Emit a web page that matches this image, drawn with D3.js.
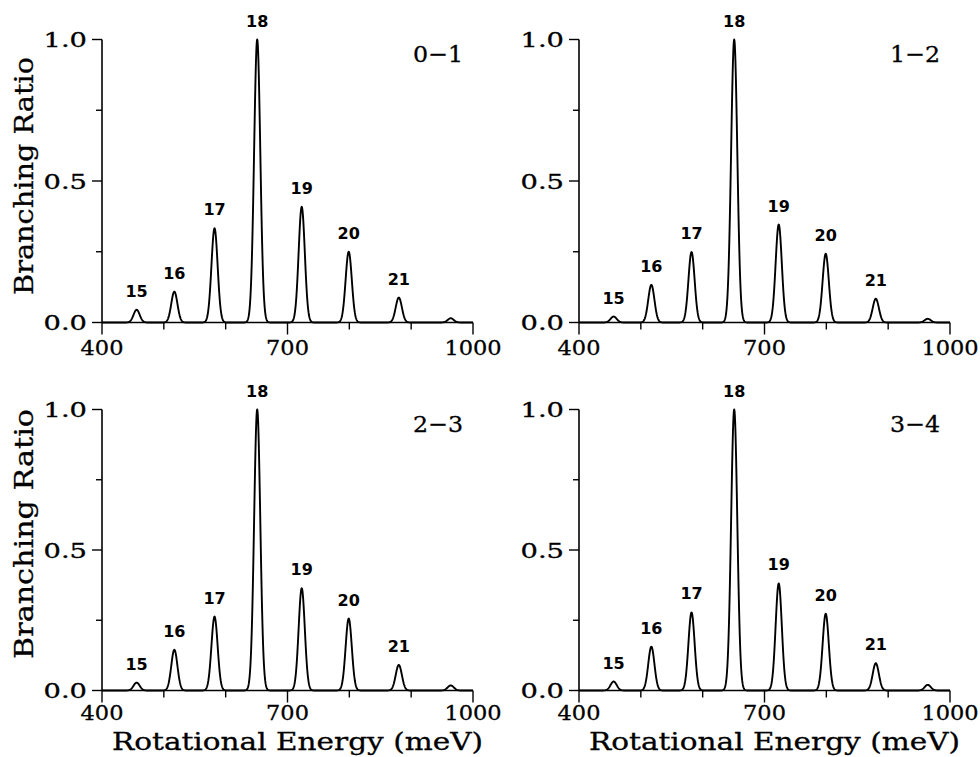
<!DOCTYPE html>
<html>
<head>
<meta charset="utf-8">
<script src="https://cdn.jsdelivr.net/npm/d3@7"></script>
<style>
  html, body { margin: 0; padding: 0; background: #fff; }
  svg { display: block; }
</style>
</head>
<body>
<div id="chart"></div>
<script>
/* Branching ratio vs rotational energy, four vibrational transitions */

// --- Data ---
const jLevels = [15, 16, 17, 18, 19, 20, 21, 22];
const peakEnergy = [456, 517, 582, 651, 723, 799, 880, 964]; // meV
const ratio01 = [0.045, 0.109, 0.333, 1.0, 0.409, 0.250, 0.088, 0.015];
const ratio12 = [0.021, 0.133, 0.249, 1.0, 0.346, 0.243, 0.084, 0.013];
const ratio23 = [0.028, 0.145, 0.263, 1.0, 0.364, 0.256, 0.091, 0.018];
const ratio34 = [0.032, 0.156, 0.278, 1.0, 0.381, 0.273, 0.097, 0.020];
const panelLabels = ["0\u22121", "1\u22122", "2\u22123", "3\u22124"];
const labeledJ = [15, 16, 17, 18, 19, 20, 21];

const xTicks = [400, 500, 600, 700, 800, 900, 1000];
const xTickLabels = [400, 700, 1000];
const yTicks = [0, 0.25, 0.5, 0.75, 1.0];
const yTickLabels = [0, 0.5, 1.0];

const lineWidth = 5; // gaussian sigma in meV (instrument broadening)

// --- Layout ---
const W = 980, H = 757;
const plotW = 371;
const panels = [
  { ratios: ratio01, label: panelLabels[0], x0: 102, top: 39.5, bot: 322.5, row: 0 },
  { ratios: ratio12, label: panelLabels[1], x0: 579, top: 39.5, bot: 322.5, row: 0 },
  { ratios: ratio23, label: panelLabels[2], x0: 102, top: 409.5, bot: 690.5, row: 1 },
  { ratios: ratio34, label: panelLabels[3], x0: 579, top: 409.5, bot: 690.5, row: 1 },
];

const serif = "'DejaVu Serif', serif";
const bold = "'DejaVu Sans', sans-serif";

const svg = d3.select("#chart").append("svg")
  .attr("width", W).attr("height", H);

function spacedText(g, str, size, len) {
  return g.append("text")
    .text(str)
    .attr("font-family", serif)
    .attr("font-size", size)
    .attr("textLength", len)
    .attr("lengthAdjust", "spacingAndGlyphs")
    .attr("fill", "#000")
    .attr("stroke", "#000")
    .attr("stroke-width", 0.3);
}

panels.forEach((p) => {
  const x = d3.scaleLinear().domain([400, 1000]).range([p.x0, p.x0 + plotW]);
  const y = d3.scaleLinear().domain([0, 1]).range([p.bot, p.top]);
  const g = svg.append("g");

  // spectrum: each rotational line broadened by a gaussian
  const pts = d3.range(400, 1000.5, 0.5).map((e) => {
    let v = 0;
    peakEnergy.forEach((c, i) => {
      const d = (e - c) / lineWidth;
      v += p.ratios[i] * Math.exp(-0.5 * d * d);
    });
    return [e, v];
  });

  g.append("path")
    .datum(pts)
    .attr("d", d3.line().x((d) => x(d[0])).y((d) => y(d[1])))
    .attr("fill", "none")
    .attr("stroke", "#000")
    .attr("stroke-width", 1.9)
    .attr("stroke-linejoin", "round");

  // axes
  g.append("line")
    .attr("x1", x(400)).attr("x2", x(1000))
    .attr("y1", y(0)).attr("y2", y(0))
    .attr("stroke", "#000").attr("stroke-width", 1.6);
  g.append("line")
    .attr("x1", x(400)).attr("x2", x(400))
    .attr("y1", y(1)).attr("y2", y(0))
    .attr("stroke", "#000").attr("stroke-width", 1.6);

  xTicks.forEach((t) => {
    const major = xTickLabels.includes(t);
    g.append("line")
      .attr("x1", x(t)).attr("x2", x(t))
      .attr("y1", y(0)).attr("y2", y(0) + (major ? 12 : 7))
      .attr("stroke", "#000").attr("stroke-width", 1.4);
  });
  yTicks.forEach((t) => {
    const major = yTickLabels.includes(t);
    g.append("line")
      .attr("x1", x(400) - (major ? 10 : 6)).attr("x2", x(400))
      .attr("y1", y(t)).attr("y2", y(t))
      .attr("stroke", "#000").attr("stroke-width", 1.4);
  });

  xTickLabels.forEach((t) => {
    const s = String(t);
    spacedText(g, s, 20, s.length * 14.3)
      .attr("x", x(t) - s.length * 14.3 / 2)
      .attr("y", y(0) + (p.row === 0 ? 32 : 29.5));
  });
  yTickLabels.forEach((t) => {
    const s = t.toFixed(1);
    spacedText(g, s, 20, 43.5)
      .attr("x", x(400) - 15 - 43.5)
      .attr("y", y(t) + 7.5);
  });

  // panel label
  spacedText(g, p.label, 23, 50)
    .attr("x", x(1000) - 10 - 50)
    .attr("y", p.top + 22);

  // peak labels
  labeledJ.forEach((j) => {
    const i = jLevels.indexOf(j);
    g.append("text")
      .text(j)
      .attr("x", x(peakEnergy[i]))
      .attr("y", y(p.ratios[i]) - 13)
      .attr("text-anchor", "middle")
      .attr("font-family", bold)
      .attr("font-weight", "bold")
      .attr("font-size", 16)
      .attr("fill", "#000");
  });

  // y axis title on left panels, x axis title on bottom panels
  if (p.x0 < 300) {
    const cy = p.row === 0 ? 176 : 534;
    const len = p.row === 0 ? 238 : 250;
    spacedText(g, "Branching Ratio", 26, len)
      .attr("transform", `translate(33,${cy + len / 2}) rotate(-90)`);
  }
  if (p.row === 1) {
    spacedText(g, "Rotational Energy (meV)", 25, 371)
      .attr("x", p.x0 + 10)
      .attr("y", 750);
  }
});
</script>
</body>
</html>
